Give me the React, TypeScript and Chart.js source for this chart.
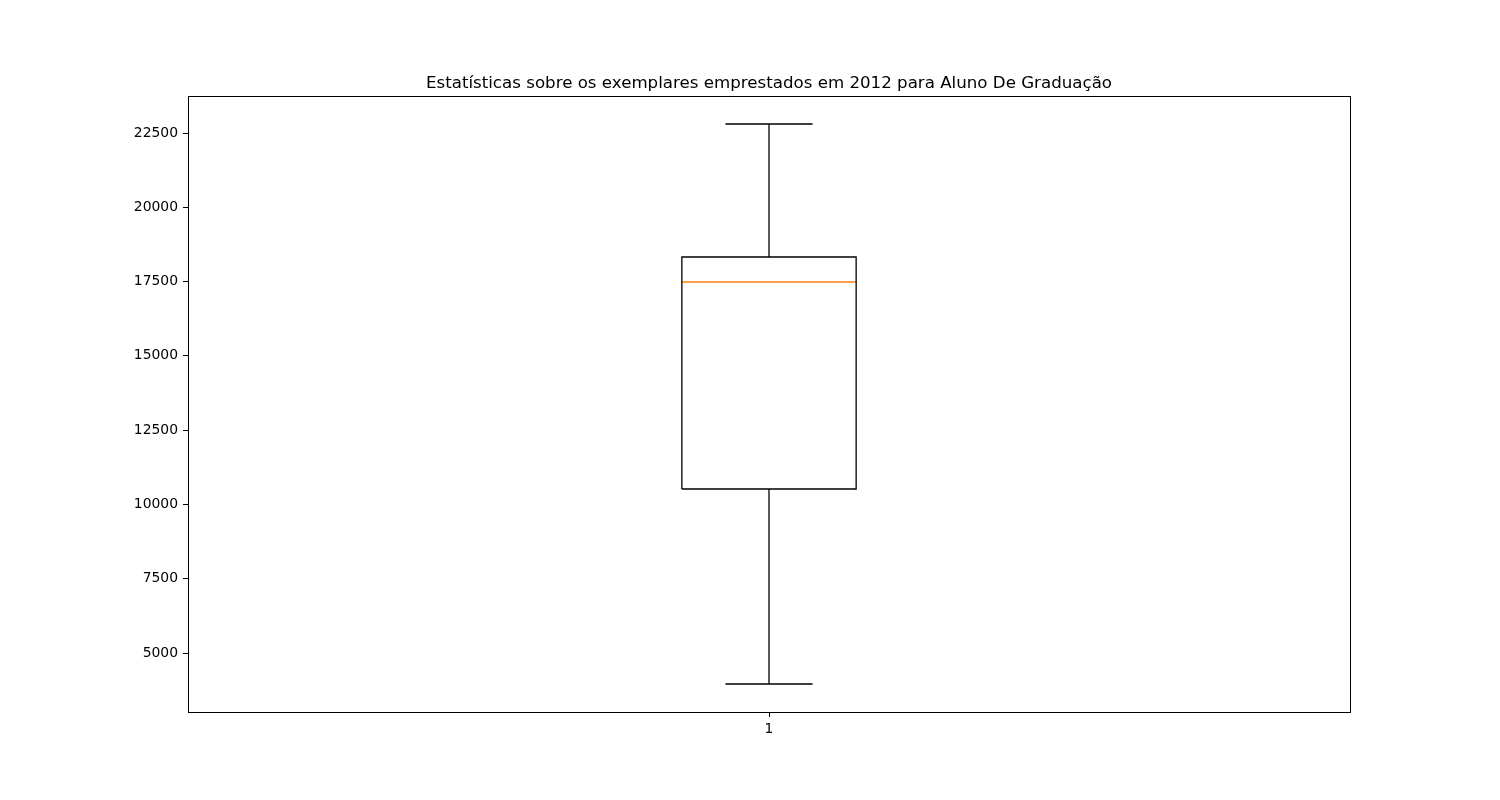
import React, { useEffect, useRef } from "react";
import { Chart, registerables } from "chart.js";

Chart.register(...registerables);

// Data
const categories = ["1"];
const categoryPositions = [1];
const whiskerLow = [3957];
const q1 = [10519];
const median = [17486];
const q3 = [18327];
const whiskerHigh = [22803];
const yTicks = [5000, 7500, 10000, 12500, 15000, 17500, 20000, 22500];
const titleText = "Estatísticas sobre os exemplares emprestados em 2012 para Aluno De Graduação";

// Style constants
const BOX_WIDTH = 0.15;
const CAP_WIDTH = 0.075;
const FONT = "'DejaVu Sans', sans-serif";

const framePlugin = {
  id: "frame",
  afterLayout(chart: any) {
    // center the title over the plot area (as matplotlib does)
    const tb = chart.titleBlock;
    if (tb) {
      tb.left = chart.chartArea.left;
      tb.right = chart.chartArea.right;
    }
  },
  afterDatasetsDraw(chart: any) {
    const { ctx, chartArea } = chart;
    ctx.save();
    ctx.strokeStyle = "#000";
    ctx.lineWidth = 1;
    ctx.strokeRect(
      Math.round(chartArea.left) + 0.5,
      Math.round(chartArea.top) + 0.5,
      Math.round(chartArea.right - chartArea.left),
      Math.round(chartArea.bottom - chartArea.top)
    );
    ctx.restore();
  },
};

export default function App() {
  const ref = useRef<HTMLCanvasElement | null>(null);

  useEffect(() => {
    if (!ref.current) return;
    const datasets: any[] = [];
    categoryPositions.forEach((x, i) => {
      const hb = BOX_WIDTH / 2;
      const hc = CAP_WIDTH / 2;
      const line = (data: any[], color = "#000") => ({
        type: "scatter",
        data,
        showLine: true,
        borderColor: color,
        borderWidth: 1.3,
        pointRadius: 0,
        fill: false,
      });
      datasets.push(
        line([
          { x: x - hb, y: q1[i] },
          { x: x + hb, y: q1[i] },
          { x: x + hb, y: q3[i] },
          { x: x - hb, y: q3[i] },
          { x: x - hb, y: q1[i] },
        ])
      );
      datasets.push(line([{ x, y: q1[i] }, { x, y: whiskerLow[i] }]));
      datasets.push(line([{ x, y: q3[i] }, { x, y: whiskerHigh[i] }]));
      datasets.push(line([{ x: x - hc, y: whiskerLow[i] }, { x: x + hc, y: whiskerLow[i] }]));
      datasets.push(line([{ x: x - hc, y: whiskerHigh[i] }, { x: x + hc, y: whiskerHigh[i] }]));
      datasets.push(line([{ x: x - hb, y: median[i] }, { x: x + hb, y: median[i] }], "#ff7f0e"));
    });

    const lo = Math.min(...whiskerLow);
    const hi = Math.max(...whiskerHigh);
    const margin = (hi - lo) * 0.05;

    const chart = new Chart(ref.current, {
      type: "scatter",
      data: { datasets },
      options: {
        animation: false,
        responsive: false,
        maintainAspectRatio: false,
        layout: { padding: { top: 62, right: 150, left: 0, bottom: 0 } },
        plugins: {
          legend: { display: false },
          tooltip: { enabled: false },
          title: {
            display: true,
            text: titleText,
            color: "#000",
            font: { family: FONT, size: 16.67, weight: "normal" },
            padding: { top: 12, bottom: 2 },
          },
        },
        scales: {
          x: {
            type: "linear",
            min: 0.5,
            max: 1.5,
            afterBuildTicks: (scale: any) => {
              scale.ticks = categoryPositions.map((v) => ({ value: v }));
            },
            afterFit: (scale: any) => {
              scale.height = 88;
            },
            ticks: {
              color: "#000",
              font: { family: FONT, size: 13.9 },
              padding: 4,
              maxRotation: 0,
              callback: (v: any) => {
                const idx = categoryPositions.indexOf(Number(v));
                return idx >= 0 ? categories[idx] : "";
              },
            },
            grid: {
              drawOnChartArea: false,
              drawTicks: true,
              tickLength: 5,
              tickColor: "#000",
              color: "#000",
            },
            border: { display: false },
          },
          y: {
            type: "linear",
            min: lo - margin,
            max: hi + margin,
            afterBuildTicks: (scale: any) => {
              scale.ticks = yTicks.map((v) => ({ value: v }));
            },
            afterFit: (scale: any) => {
              scale.width = 188;
            },
            ticks: {
              color: "#000",
              font: { family: FONT, size: 13.9 },
              padding: 5,
              callback: (v: any) => String(v),
            },
            grid: {
              drawOnChartArea: false,
              drawTicks: true,
              tickLength: 5,
              tickColor: "#000",
              color: "#000",
            },
            border: { display: false },
          },
        },
      } as any,
      plugins: [framePlugin],
    });
    return () => chart.destroy();
  }, []);

  return (
    <div style={{ position: "absolute", left: 0, top: 0, width: 1500, height: 800, background: "#fff" }}>
      <canvas ref={ref} width={1500} height={800} style={{ width: 1500, height: 800 }} />
    </div>
  );
}
